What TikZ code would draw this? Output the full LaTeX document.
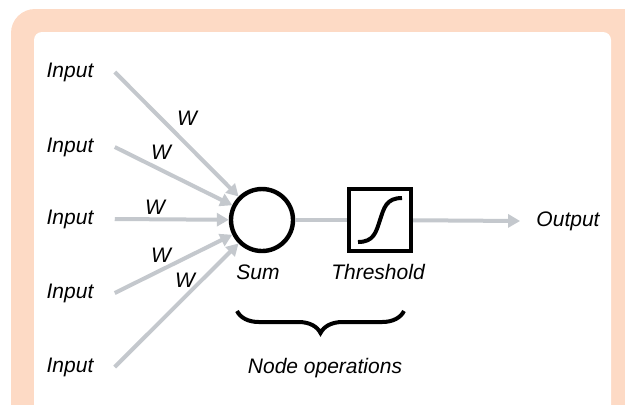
\documentclass[tikz,border=0pt]{standalone}
\usepackage{fontspec}
\setmainfont{Liberation Sans}
\usetikzlibrary{arrows.meta,decorations.pathreplacing}
\definecolor{peach}{RGB}{253,218,197}
\definecolor{wiregray}{RGB}{196,200,205}

\begin{document}
\begin{tikzpicture}[x=0.5pt,y=-0.5pt,
  every node/.style={font=\fontsize{10.5}{12}\selectfont\itshape},
  input/.style={inner xsep=10.5pt},
  wire/.style={draw=wiregray,line width=2pt},
  feed/.style={wire,-{Triangle[length=6pt,width=6.5pt]}},
  opbox/.style={draw,line width=2.2pt,minimum size=31pt,inner sep=0pt}]
\clip (0,0) rectangle (625,404);
% panel
\fill[peach,rounded corners=12pt] (11,9) rectangle (660,440);
\fill[white,rounded corners=4pt] (34,32) rectangle (611,440);

\node[input] (in1) at (70,72) {Input};
\node[input] (in2) at (70,147) {Input};
\node[input] (in3) at (70,219) {Input};
\node[input] (in4) at (70,293) {Input};
\node[input] (in5) at (70,367) {Input};

\node [circle,opbox] (sum) at (262,220) {};
\node [opbox] (thr) at (380,220) {};
\node [inner xsep=8pt] (out) at (568,221) {Output};

\foreach \i in {1,...,5}
  \draw[feed] (in\i.east) -- (sum);
\draw[wire] (sum) -- (thr);
\draw[feed] (thr) -- (out.west);

% sigmoid
\draw[line width=2pt] ([shift={(-22,22)}]thr.center)
  .. controls +(16,0) and +(-4,12) .. (thr.center)
  .. controls +(4,-12) and +(-16,0) .. ([shift={(22,-22)}]thr.center);

\node (w1) at (187,118) {W};
\node (w2) at (161,152) {W};
\node (w3) at (155,207) {W};
\node (w4) at (161,255) {W};
\node (w5) at (185,280) {W};

\node (sumlbl) at (258,272) {Sum};
\node (thrlbl) at (378,272) {Threshold};

\coordinate (bl) at (237,311);
\coordinate (br) at (404,311);
\draw[decorate,decoration={brace,amplitude=11pt,mirror},line width=2pt] (bl) -- (br);
\node (ops) at (325,368) {Node operations};
\end{tikzpicture}
\end{document}
